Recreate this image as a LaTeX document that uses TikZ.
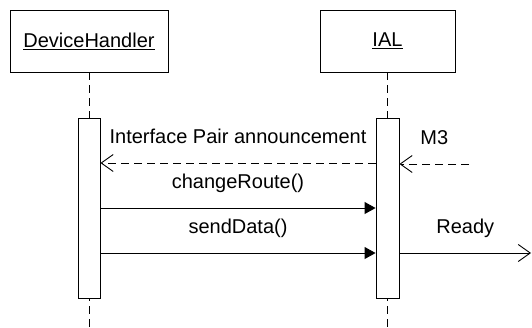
\documentclass[tikz,border=0pt]{standalone}
\usepackage{fontspec}
\setmainfont{Liberation Sans}
\usepackage{tikz}
\usetikzlibrary{positioning, arrows.meta}

\tikzset{
    objbox/.style={draw, line width=0.9pt, minimum height=62pt, inner sep=0pt},
    actbox/.style={draw, line width=0.9pt, fill=white, minimum width=22pt, minimum height=180pt, inner sep=0pt},
    lifeline/.style={line width=0.9pt, dash pattern=on 8pt off 5pt},
    call/.style={line width=0.9pt, -{Triangle[length=11pt,width=12pt]}},
    reply/.style={line width=0.9pt, dash pattern=on 8pt off 5pt, -{Straight Barb[length=12pt,width=17pt]}},
    signal/.style={line width=0.9pt, -{Straight Barb[length=12pt,width=17pt]}},
    msglabel/.style={anchor=base, yshift=20pt, inner sep=0pt}
}

\begin{document}
\begin{tikzpicture}[x=1pt, y=-1pt, font=\fontsize{20}{23}\selectfont]
    \useasboundingbox (0,0) rectangle (532,327);

    % objects
    \node[objbox, minimum width=158pt] (dh) at (89,41) {\underline{DeviceHandler}};
    \node[objbox, minimum width=135pt] (ial) at (387.5,41) {\underline{IAL}};

    % lifelines
    \coordinate (dhend) at (89,327);
    \coordinate (ialend) at (387.5,327);
    \draw[lifeline] (dh.south) -- (dhend);
    \draw[lifeline] (ial.south) -- (ialend);
    \node[actbox] (dhact) at (89,208) {};
    \node[actbox, minimum width=23pt] (ialact) at (387.5,208) {};

    % message heights
    \coordinate (m1) at (0,163);
    \coordinate (m2) at (0,208);
    \coordinate (m3) at (0,253);
    \coordinate (m3start) at (469,164);
    \coordinate (readyend) at (531,253);

    \draw[reply] (ialact.west |- m1) -- (dhact.east |- m1)
        node[midway, msglabel] {Interface Pair announcement};
    \draw[reply] (m3start) -- (ialact.east |- m3start)
        node[midway, msglabel] {M3};
    \draw[call] (dhact.east |- m2) -- (ialact.west |- m2)
        node[midway, msglabel] {changeRoute()};
    \draw[call] (dhact.east |- m3) -- (ialact.west |- m3)
        node[midway, msglabel] {sendData()};
    \draw[signal] (ialact.east |- m3) -- (readyend)
        node[midway, msglabel] {Ready};
\end{tikzpicture}
\end{document}
